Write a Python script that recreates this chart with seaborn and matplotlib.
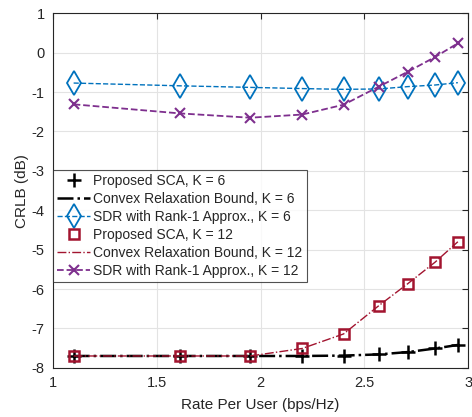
import matplotlib
matplotlib.use("Agg")
import matplotlib.pyplot as plt
import seaborn as sns

### values
rate = [1.1, 1.61, 1.95, 2.2, 2.4, 2.57, 2.71, 2.84, 2.95]
sca_k6 = [-7.70, -7.70, -7.70, -7.70, -7.69, -7.66, -7.60, -7.51, -7.42]
bound_k6 = [-7.70, -7.70, -7.70, -7.70, -7.69, -7.66, -7.60, -7.51, -7.42]
sdr_k6 = [-0.77, -0.84, -0.88, -0.91, -0.93, -0.92, -0.86, -0.82, -0.76]
sca_k12 = [-7.70, -7.70, -7.70, -7.51, -7.14, -6.42, -5.86, -5.32, -4.80]
bound_k12 = [-7.70, -7.70, -7.70, -7.51, -7.14, -6.42, -5.86, -5.32, -4.80]
sdr_k12 = [-1.31, -1.54, -1.65, -1.57, -1.32, -0.86, -0.48, -0.11, 0.24]

sns.set_style("white")
plt.rcParams['font.family'] = ['Liberation Sans', 'DejaVu Sans']
plt.rcParams['axes.unicode_minus'] = False

fig = plt.figure(figsize=(4.72, 4.17), dpi=100)
ax = fig.add_axes([0.112, 0.118, 0.88, 0.85])

blue = '#0072BD'
red = '#A2142F'
purple = '#7E2F8E'

sns.lineplot(x=rate, y=sca_k6, ax=ax, color='black', marker='+', markersize=10,
             markeredgecolor='black', markeredgewidth=1.8, linestyle='none',
             label='Proposed SCA, K = 6')
sns.lineplot(x=rate, y=bound_k6, ax=ax, color='black', linestyle='-.', linewidth=1.8,
             label='Convex Relaxation Bound, K = 6')
sns.lineplot(x=rate, y=sdr_k6, ax=ax, color=blue, linestyle='--', linewidth=1.0,
             marker='d', markersize=12, markerfacecolor='none', markeredgecolor=blue,
             markeredgewidth=1.3, label='SDR with Rank-1 Approx., K = 6')
sns.lineplot(x=rate, y=sca_k12, ax=ax, color=red, marker='s', markersize=7,
             markerfacecolor='none', markeredgecolor=red, markeredgewidth=1.8,
             linestyle='none', label='Proposed SCA, K = 12')
sns.lineplot(x=rate, y=bound_k12, ax=ax, color=red, linestyle='-.', linewidth=1.0,
             label='Convex Relaxation Bound, K = 12')
sns.lineplot(x=rate, y=sdr_k12, ax=ax, color=purple, linestyle='--', linewidth=1.3,
             marker='x', markersize=7, markeredgecolor=purple, markeredgewidth=1.5,
             label='SDR with Rank-1 Approx., K = 12')

ax.set_xlim(1, 3)
ax.set_ylim(-8, 1)
ax.set_xticks([1, 1.5, 2, 2.5, 3])
ax.set_xticklabels(['1', '1.5', '2', '2.5', '3'])
ax.set_yticks(range(-8, 2))
ax.grid(True, color='#e3e3e3', linewidth=0.8)
ax.tick_params(direction='in', top=True, right=True, length=4, colors='#262626',
               labelsize=10.5, labelcolor='#262626', pad=6)
for s in ax.spines.values():
    s.set_color('#262626')
    s.set_linewidth(0.8)
ax.set_xlabel('Rate Per User (bps/Hz)', fontsize=11, color='#262626', labelpad=6)
ax.set_ylabel('CRLB (dB)', fontsize=11, color='#262626', labelpad=2)

leg = ax.legend(loc='upper left', bbox_to_anchor=(0, 0.558), borderaxespad=0,
                fontsize=10, frameon=True, fancybox=False, handlelength=2.4,
                handletextpad=0.2, labelspacing=0.28, borderpad=0.3)
leg.get_frame().set_edgecolor('#262626')
leg.get_frame().set_linewidth(0.8)

fig.savefig('out.png', dpi=100)
